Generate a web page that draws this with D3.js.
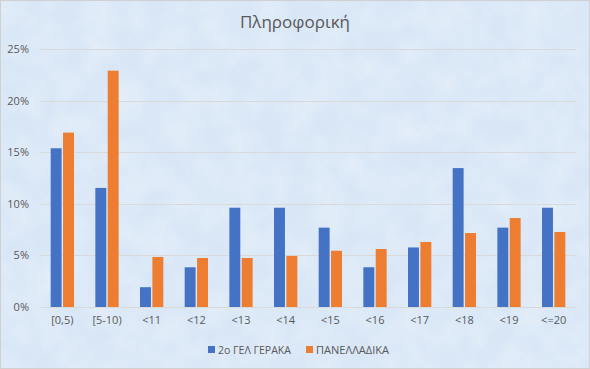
<!DOCTYPE html>
<html>
<head>
<meta charset="utf-8">
<script src="https://cdn.jsdelivr.net/npm/d3@7"></script>
<style>
html,body{margin:0;padding:0;background:#fff;}
svg{display:block;}
</style>
</head>
<body>
<script>
const categories = ["[0,5)", "[5-10)", "<11", "<12", "<13", "<14", "<15", "<16", "<17", "<18", "<19", "<=20"];
const seriesNames = ["2ο ΓΕΛ ΓΕΡΑΚΑ", "ΠΑΝΕΛΛΑΔΙΚΑ"];
const school = [15.38, 11.54, 1.92, 3.85, 9.62, 9.62, 7.69, 3.85, 5.77, 13.46, 7.69, 9.62];
const national = [16.9, 22.9, 4.85, 4.75, 4.75, 4.95, 5.45, 5.62, 6.3, 7.17, 8.62, 7.27];
const yTicks = [0, 5, 10, 15, 20, 25];
const title = "Πληροφορική";
const colors = ["#4472C4", "#ED7D31"];

const W = 590, H = 369;
const margin = {left: 40, right: 14, top: 49, bottom: 62};
const font = "'Open Sans', 'Noto Sans', sans-serif";

const svg = d3.select("body").append("svg").attr("width", W).attr("height", H);
const defs = svg.append("defs");
const filt = defs.append("filter").attr("id", "tex").attr("x", 0).attr("y", 0).attr("width", "100%").attr("height", "100%");
filt.append("feTurbulence").attr("type", "fractalNoise").attr("baseFrequency", "0.035").attr("numOctaves", 3).attr("seed", 4).attr("result", "n");
filt.append("feColorMatrix").attr("in", "n").attr("type", "matrix")
  .attr("values", "0 0 0 0 1  0 0 0 0 1  0 0 0 0 1  0.9 0 0 0 -0.25");

svg.append("rect").attr("width", W).attr("height", H).attr("fill", "#d8e6f6");
svg.append("rect").attr("width", W).attr("height", H).attr("filter", "url(#tex)").attr("opacity", 0.55);
svg.append("rect").attr("x", 0.5).attr("y", 0.5).attr("width", W - 1).attr("height", H - 1)
  .attr("fill", "none").attr("stroke", "#d0d0d0").attr("stroke-width", 1);

const x = d3.scaleBand().domain(categories).range([margin.left, W - margin.right]).paddingInner(0).paddingOuter(0);
const y = d3.scaleLinear().domain([0, 25]).range([H - margin.bottom, margin.top]);

// gridlines
svg.append("g").selectAll("line").data(yTicks).join("line")
  .attr("x1", margin.left).attr("x2", W - margin.right)
  .attr("y1", d => Math.round(y(d)) + 0.5).attr("y2", d => Math.round(y(d)) + 0.5)
  .attr("stroke", "#d9d9d9").attr("stroke-width", 1);

// y axis labels
const yAxis = d3.axisLeft(y).tickValues(yTicks).tickFormat(d => d + "%").tickSize(0).tickPadding(0);
const yg = svg.append("g").attr("transform", `translate(${margin.left - 11},0)`).call(yAxis);
yg.select(".domain").remove();
yg.selectAll("text").attr("fill", "#595959").style("font-family", font).style("font-size", "11px");

// x axis labels
const xAxis = d3.axisBottom(x).tickSize(0).tickPadding(0);
const xg = svg.append("g").attr("transform", `translate(0,${y(0) + 9})`).call(xAxis);
xg.select(".domain").remove();
xg.selectAll("text").attr("fill", "#595959").style("font-family", font).style("font-size", "11px");

// bars
const bw = 10.3, gap = 2.7;
const sub = d3.scaleBand().domain([0, 1]).range([0, bw * 2 + gap]).paddingInner(gap / (bw * 2 + gap));
const data = categories.map((c, i) => ({c, v: [school[i], national[i]]}));
const groups = svg.append("g").selectAll("g").data(data).join("g")
  .attr("transform", d => `translate(${x(d.c) + x.bandwidth() / 2 - (bw * 2 + gap) / 2},0)`);
groups.selectAll("rect").data(d => d.v.map((v, k) => ({v, k}))).join("rect")
  .attr("x", d => sub(d.k)).attr("width", sub.bandwidth())
  .attr("y", d => y(d.v)).attr("height", d => y(0) - y(d.v))
  .attr("fill", d => colors[d.k]);

// title
svg.append("text").attr("x", W / 2).attr("y", 28).attr("text-anchor", "middle")
  .attr("fill", "#595959").style("font-family", font).style("font-size", "17px").text(title);

// legend
const lg = svg.append("g").attr("transform", "translate(208,350)");
const items = [{n: seriesNames[0], x: 0}, {n: seriesNames[1], x: 98}];
items.forEach((it, k) => {
  lg.append("rect").attr("x", it.x).attr("y", -4).attr("width", 7).attr("height", 7).attr("fill", colors[k]);
  lg.append("text").attr("x", it.x + 10).attr("y", 0).attr("dy", "0.35em")
    .attr("fill", "#595959").style("font-family", font).style("font-size", "10px")
    .attr("textLength", 73).attr("lengthAdjust", "spacingAndGlyphs").text(it.n);
});
</script>
</body>
</html>
